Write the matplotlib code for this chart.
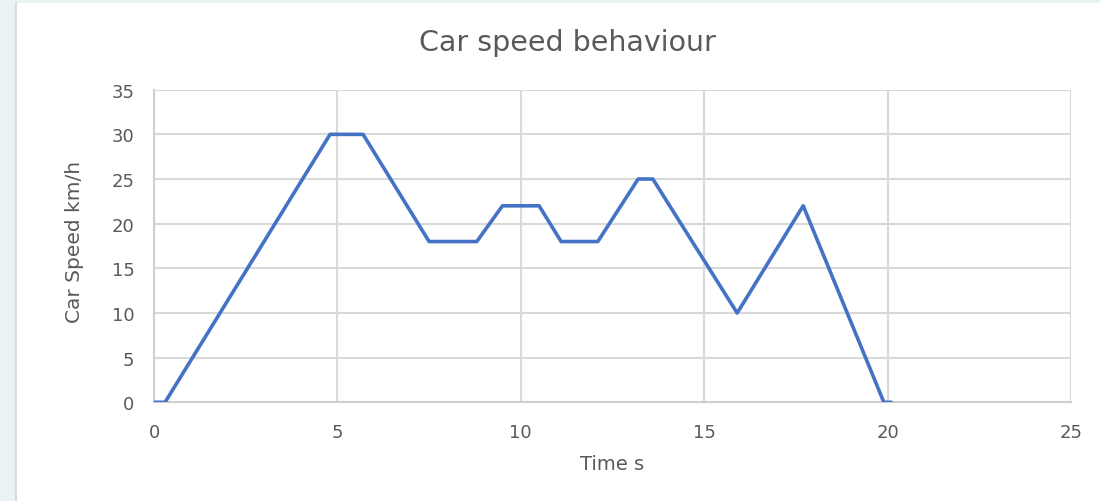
import matplotlib.pyplot as plt
from matplotlib.patches import Rectangle

# time (s) and speed (km/h)
time_s = [0, 0.3, 4.8, 5.7, 7.5, 8.8, 9.5, 10.5, 11.1, 12.1, 13.2, 13.6, 15.9, 17.7, 19.9, 20.1]
speed_kmh = [0, 0, 30, 30, 18, 18, 22, 22, 18, 18, 25, 25, 10, 22, 0, 0]

x_ticks = [0, 5, 10, 15, 20, 25]
y_ticks = [0, 5, 10, 15, 20, 25, 30, 35]

text_col = '#595959'
grid_col = '#d9d9d9'
wide_font = ['DejaVu Sans']

fig = plt.figure(figsize=(11, 5.02), dpi=100)
fig.patch.set_facecolor('white')

# light frame strip at left/top like the screenshot
fig.patches.append(Rectangle((0, 0), 16 / 1100, 1, transform=fig.transFigure,
                             facecolor='#eaf3f3', edgecolor='none', zorder=0))
fig.patches.append(Rectangle((0, 1 - 4 / 502), 1, 4 / 502, transform=fig.transFigure,
                             facecolor='#eaf3f3', edgecolor='none', zorder=0))
fig.lines.append(plt.Line2D([16 / 1100, 16 / 1100], [0, 1 - 4 / 502], transform=fig.transFigure,
                            color='#d4dede', lw=1.5))

ax = fig.add_axes([0.14, 0.1966, 0.8336, 0.6227])
ax.plot(time_s, speed_kmh, color='#4472c4', lw=2.6, solid_joinstyle='round',
        solid_capstyle='round', zorder=3)

ax.set_xlim(0, 25)
ax.set_ylim(0, 35)
ax.set_xticks(x_ticks)
ax.set_yticks(y_ticks)
ax.grid(True, color=grid_col, lw=1.5)
ax.set_axisbelow(True)
for s in ['top', 'right']:
    ax.spines[s].set_visible(False)
ax.spines['left'].set_color('#cfcfcf')
ax.spines['bottom'].set_color('#cfcfcf')
ax.spines['left'].set_linewidth(1.5)
ax.spines['bottom'].set_linewidth(1.5)
ax.tick_params(length=0, labelsize=13, labelcolor=text_col, pad=14)
for lab in ax.get_xticklabels() + ax.get_yticklabels():
    lab.set_family(wide_font)
ax.tick_params(axis='x', pad=15)

fig.text(567 / 1100, 1 - 43 / 502, 'Car speed behaviour', ha='center', va='center',
         fontsize=20.5, color=text_col, family=wide_font)
fig.text(612 / 1100, 1 - 465 / 502, 'Time s', ha='center', va='center',
         fontsize=14, color=text_col, family=wide_font)
fig.text(75 / 1100, 1 - 242 / 502, 'Car Speed km/h', ha='center', va='center', rotation=90,
         fontsize=14.5, color=text_col, family=wide_font)

fig.savefig('out.png', dpi=100)
